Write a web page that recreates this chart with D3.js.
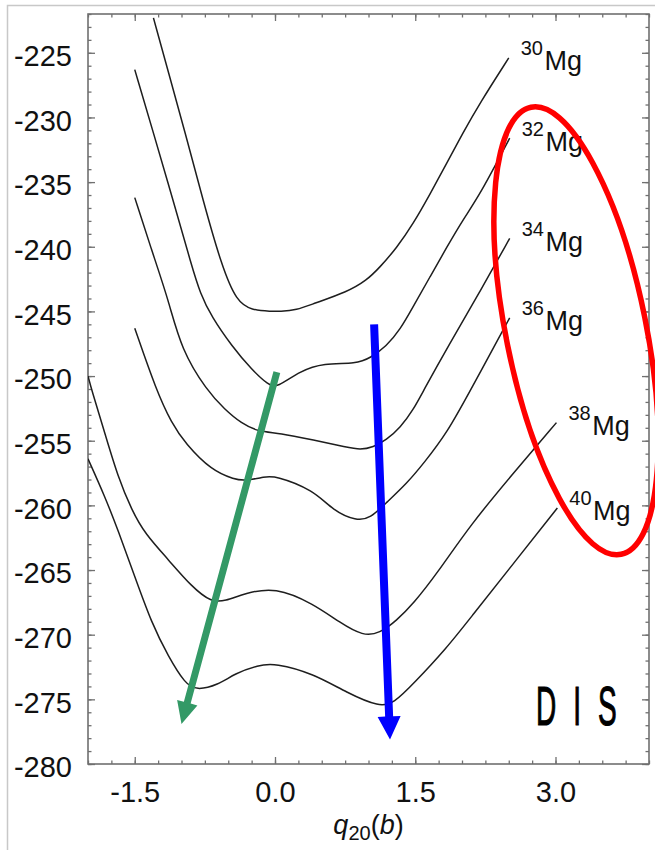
<!DOCTYPE html>
<html>
<head>
<meta charset="utf-8">
<script src="https://cdn.jsdelivr.net/npm/d3@7/dist/d3.min.js"></script>
<style>
  body { margin: 0; background: #fff; }
  svg { display: block; font-family: "Liberation Sans", Arial, Helvetica, sans-serif; }
</style>
</head>
<body>
<svg id="chart" width="655" height="850"></svg>
<script>
// energy curves E(q20), one pair of arrays per isotope
const q30 = [-1.30, -1.14, -0.96, -0.77, -0.57, -0.41, -0.25, -0.04, 0.05, 0.23, 0.41, 0.77, 0.98, 1.12, 1.30, 1.48, 1.66, 1.84, 2.01, 2.19, 2.50];
const e30 = [-222.3, -226.5, -231.2, -236.4, -241.5, -244.25, -244.9, -245.0, -245.0, -244.9, -244.4, -243.5, -242.6, -241.6, -240.1, -238.2, -235.9, -233.5, -231.2, -228.9, -225.4];

const q32 = [-1.50, -1.30, -1.09, -0.89, -0.80, -0.68, -0.46, -0.25, -0.07, 0.02, 0.27, 0.52, 0.87, 1.02, 1.19, 1.34, 1.48, 1.66, 1.84, 2.01, 2.19, 2.51];
const e32 = [-226.3, -231.2, -236.4, -241.5, -243.6, -245.4, -247.7, -249.5, -250.7, -250.9, -249.6, -249.0, -249.05, -248.6, -247.7, -246.4, -244.6, -242.3, -240.0, -237.9, -236.0, -231.6];

const q34 = [-1.50, -1.32, -1.14, -1.00, -0.73, -0.535, -0.36, -0.18, 0.05, 0.41, 0.77, 0.91, 1.05, 1.19, 1.34, 1.48, 1.59, 1.86, 2.19, 2.51];
const e34 = [-236.2, -240.25, -244.1, -248.0, -251.1, -252.6, -253.65, -254.3, -254.4, -254.95, -255.5, -255.7, -255.5, -254.95, -254.0, -252.6, -251.1, -247.6, -243.5, -239.35];

const q36 = [-1.50, -1.27, -1.105, -0.96, -0.68, -0.43, -0.32, -0.11, 0.0, 0.41, 0.62, 0.87, 1.02, 1.19, 1.41, 1.59, 1.84, 2.09, 2.51];
const e36 = [-246.3, -251.1, -253.65, -255.2, -257.3, -258.0, -258.1, -257.8, -257.7, -258.8, -260.4, -261.2, -261.0, -259.8, -258.3, -256.75, -254.4, -251.1, -245.5];

const q38 = [-2.0, -1.96, -1.82, -1.68, -1.53, -1.39, -1.14, -0.89, -0.68, -0.535, -0.32, 0.0, 0.41, 0.70, 0.94, 1.12, 1.30, 1.48, 1.73, 2.09, 2.55, 3.01];
const e38 = [-250.0, -251.1, -254.4, -257.8, -260.4, -262.2, -264.2, -266.3, -267.5, -267.4, -266.8, -266.3, -267.6, -269.1, -270.1, -269.9, -268.9, -267.6, -265.3, -261.5, -257.5, -253.6];

const q40 = [-2.0, -1.82, -1.68, -1.50, -1.32, -1.14, -0.96, -0.84, -0.61, -0.43, -0.18, 0.0, 0.41, 0.77, 1.12, 1.27, 1.48, 1.84, 2.09, 2.55, 3.02];
const e40 = [-256.4, -259.3, -261.9, -265.5, -269.1, -271.7, -273.8, -274.3, -273.9, -273.0, -272.35, -272.2, -273.0, -274.5, -275.6, -275.3, -273.8, -271.0, -268.7, -264.5, -260.2];

const massNumbers = ["30", "32", "34", "36", "38", "40"];
const qSeries = [q30, q32, q34, q36, q38, q40];
const eSeries = [e30, e32, e34, e36, e38, e40];

// tick values
const xTicks = [-1.5, 0.0, 1.5, 3.0];
const yTicks = [-225, -230, -235, -240, -245, -250, -255, -260, -265, -270, -275, -280];

// annotations (data coordinates)
const greenArrow = [[0.02, -249.7], [-1.0, -276.9]];
const blueArrow = [[1.06, -246.0], [1.23, -278.1]];
const ellipseCenter = [3.22, -246.5];

const svg = d3.select("#chart");
const W = 655, H = 850;
const plotL = 88, plotR = 649, plotT = 14, plotB = 764;

const x = d3.scaleLinear().domain([-2, 4]).range([plotL, plotR]);
const y = d3.scaleLinear().domain([-280, -222]).range([plotB, plotT]);

// light outer border of the figure
svg.append("rect")
  .attr("x", 7.5).attr("y", 5.5)
  .attr("width", W + 20).attr("height", H + 20)
  .attr("fill", "none").attr("stroke", "#c8c8c8").attr("stroke-width", 1.5);

const axisColor = "#707070";
const xMinor = d3.range(-2, 4.001, 0.25);
const yMinor = d3.range(-280, -221.999, 1);

function styleAxis(g) {
  g.select(".domain").remove();
  g.selectAll(".tick line").attr("stroke", axisColor).attr("stroke-width", 1.3);
}

// minor ticks on all four sides
svg.append("g").attr("transform", `translate(0,${plotB})`)
  .call(d3.axisBottom(x).tickValues(xMinor).tickSize(-3.5).tickFormat("")).call(styleAxis);
svg.append("g").attr("transform", `translate(0,${plotT})`)
  .call(d3.axisTop(x).tickValues(xMinor).tickSize(-3.5).tickFormat("")).call(styleAxis);
svg.append("g").attr("transform", `translate(${plotL},0)`)
  .call(d3.axisLeft(y).tickValues(yMinor).tickSize(-3.5).tickFormat("")).call(styleAxis);
svg.append("g").attr("transform", `translate(${plotR},0)`)
  .call(d3.axisRight(y).tickValues(yMinor).tickSize(-3.5).tickFormat("")).call(styleAxis);

// major ticks with labels
const xAxis = svg.append("g").attr("transform", `translate(0,${plotB})`)
  .call(d3.axisBottom(x).tickValues(xTicks).tickSizeInner(-7).tickSizeOuter(0)
    .tickPadding(17).tickFormat(d => d.toFixed(1)))
  .call(styleAxis);
svg.append("g").attr("transform", `translate(0,${plotT})`)
  .call(d3.axisTop(x).tickValues(xTicks).tickSizeInner(-7).tickSizeOuter(0).tickFormat(""))
  .call(styleAxis);
const yAxis = svg.append("g").attr("transform", `translate(${plotL},0)`)
  .call(d3.axisLeft(y).tickValues(yTicks).tickSizeInner(-7).tickSizeOuter(0)
    .tickPadding(16).tickFormat(d => String(d)))
  .call(styleAxis);
svg.append("g").attr("transform", `translate(${plotR},0)`)
  .call(d3.axisRight(y).tickValues(yTicks).tickSizeInner(-7).tickSizeOuter(0).tickFormat(""))
  .call(styleAxis);

[xAxis, yAxis].forEach(g => g.selectAll("text")
  .attr("font-family", '"Liberation Sans", Arial, sans-serif')
  .attr("font-size", 29).attr("fill", "#111"));
yAxis.selectAll("text").attr("dy", "0.44em");

// plot frame
svg.append("rect")
  .attr("x", plotL).attr("y", plotT)
  .attr("width", plotR - plotL).attr("height", plotB - plotT)
  .attr("fill", "none").attr("stroke", axisColor).attr("stroke-width", 1.6);

// x axis title q20(b)
const title = svg.append("text")
  .attr("x", (plotL + plotR) / 2).attr("y", 834)
  .attr("text-anchor", "middle").attr("font-size", 27).attr("fill", "#111");
title.append("tspan").attr("font-style", "italic").text("q");
title.append("tspan").attr("font-size", 20).attr("dy", 6).text("20");
title.append("tspan").attr("dy", -6).text("(");
title.append("tspan").attr("font-style", "italic").text("b");
title.append("tspan").text(")");

// curves
svg.append("clipPath").attr("id", "plotClip")
  .append("rect").attr("x", plotL).attr("y", plotT)
  .attr("width", plotR - plotL).attr("height", plotB - plotT);

const line = d3.line()
  .x(d => x(d[0]))
  .y(d => y(d[1]))
  .curve(d3.curveBasis);

const curveG = svg.append("g").attr("clip-path", "url(#plotClip)");
qSeries.forEach((qs, i) => {
  const pts = qs.map((q, j) => [q, eSeries[i][j]]);
  curveG.append("path")
    .attr("d", line(pts))
    .attr("fill", "none")
    .attr("stroke", "#1e1e1e")
    .attr("stroke-width", 1.5);
});

// isotope labels next to the curve ends
qSeries.forEach((qs, i) => {
  const qe = qs[qs.length - 1];
  const ee = eSeries[i][eSeries[i].length - 1];
  const t = svg.append("text")
    .attr("x", x(qe) + 12)
    .attr("y", y(ee) + 12.5)
    .attr("fill", "#111");
  t.append("tspan").attr("font-size", 20).attr("dy", -15).text(massNumbers[i]);
  t.append("tspan").attr("font-size", 27).attr("dy", 15).attr("dx", 1.5).text("Mg");
});

// thick arrows
function arrowPath(p0, p1, shaftW, headL, headW) {
  const x0 = x(p0[0]), y0 = y(p0[1]), x1 = x(p1[0]), y1 = y(p1[1]);
  const len = Math.hypot(x1 - x0, y1 - y0);
  const ux = (x1 - x0) / len, uy = (y1 - y0) / len;
  const nx = -uy, ny = ux;
  const bx = x1 - ux * headL, by = y1 - uy * headL;
  const pts = [
    [x0 + nx * shaftW / 2, y0 + ny * shaftW / 2],
    [bx + nx * shaftW / 2, by + ny * shaftW / 2],
    [bx + nx * headW / 2, by + ny * headW / 2],
    [x1, y1],
    [bx - nx * headW / 2, by - ny * headW / 2],
    [bx - nx * shaftW / 2, by - ny * shaftW / 2],
    [x0 - nx * shaftW / 2, y0 - ny * shaftW / 2]
  ];
  return "M" + pts.map(p => p.join(",")).join("L") + "Z";
}

svg.append("path").attr("d", arrowPath(greenArrow[0], greenArrow[1], 7, 22, 21))
  .attr("fill", "#339966");
svg.append("path").attr("d", arrowPath(blueArrow[0], blueArrow[1], 8, 23, 23))
  .attr("fill", "#0000ff");

// red ellipse around the labels
svg.append("ellipse")
  .attr("cx", 0).attr("cy", 0).attr("rx", 70).attr("ry", 228)
  .attr("transform", `translate(${x(ellipseCenter[0])},${y(ellipseCenter[1])}) rotate(-11.4)`)
  .attr("fill", "none").attr("stroke", "#ff0000").attr("stroke-width", 5.5);

// DIS tag
svg.append("text")
  .attr("transform", "translate(536,725) scale(0.5,1)")
  .attr("font-size", 56)
  .attr("letter-spacing", 34).attr("fill", "#000")
  .attr("stroke", "#000").attr("stroke-width", 1.2)
  .text("DIS");
</script>
</body>
</html>
